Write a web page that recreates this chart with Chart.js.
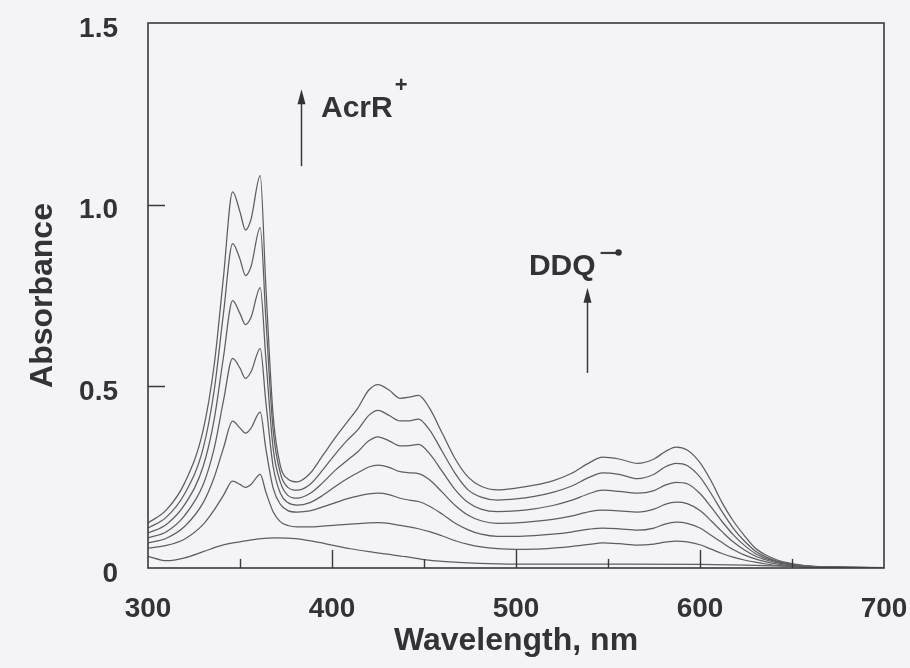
<!DOCTYPE html>
<html>
<head>
<meta charset="utf-8">
<script src="https://cdn.jsdelivr.net/npm/chart.js@4.4.1/dist/chart.umd.min.js"></script>
<style>
  html, body { margin: 0; padding: 0; background: #f4f4f6; }
  #wrap { width: 910px; height: 668px; }
</style>
</head>
<body>
<div id="wrap"><canvas id="c" width="910" height="668"></canvas></div>
<script>
// ---- data ----
const wavelengths = [300, 310, 320, 330, 336, 341, 346, 350, 353, 356, 361, 364, 368, 372, 376, 381, 388, 395, 402, 408,
  414, 420, 425, 431, 437, 442, 447, 453, 460, 467, 474, 481, 490, 500, 510, 520, 530, 540, 547, 556,
  566, 575, 581, 587, 593, 600, 606, 612, 618, 624, 630, 636, 642, 648, 655, 665, 680, 700];

const spectrum1 = [0.124, 0.16, 0.235, 0.38, 0.56, 0.80, 1.035, 0.98, 0.93, 0.96, 1.08, 0.78, 0.42, 0.28, 0.245, 0.237, 0.26, 0.31, 0.36, 0.40,
  0.44, 0.49, 0.505, 0.49, 0.467, 0.47, 0.475, 0.44, 0.37, 0.30, 0.25, 0.225, 0.215, 0.22, 0.228, 0.24, 0.26, 0.29, 0.305, 0.30,
  0.288, 0.30, 0.32, 0.333, 0.325, 0.29, 0.24, 0.18, 0.13, 0.09, 0.055, 0.035, 0.022, 0.014, 0.008, 0.004, 0.002, 0.001];

const spectrum2 = [0.11, 0.14, 0.205, 0.33, 0.49, 0.70, 0.893, 0.85, 0.805, 0.83, 0.937, 0.69, 0.38, 0.26, 0.222, 0.214, 0.23, 0.27, 0.315, 0.35,
  0.38, 0.42, 0.434, 0.42, 0.405, 0.405, 0.41, 0.38, 0.32, 0.26, 0.215, 0.195, 0.187, 0.19, 0.197, 0.208, 0.225, 0.25, 0.262, 0.258,
  0.246, 0.258, 0.278, 0.288, 0.282, 0.25, 0.205, 0.155, 0.11, 0.075, 0.047, 0.03, 0.019, 0.012, 0.007, 0.003, 0.002, 0.001];

const spectrum3 = [0.096, 0.12, 0.175, 0.28, 0.41, 0.58, 0.736, 0.70, 0.67, 0.69, 0.772, 0.58, 0.33, 0.235, 0.20, 0.192, 0.205, 0.235, 0.27, 0.295,
  0.32, 0.35, 0.361, 0.35, 0.336, 0.337, 0.34, 0.315, 0.265, 0.215, 0.18, 0.162, 0.155, 0.157, 0.163, 0.172, 0.186, 0.205, 0.214, 0.211,
  0.206, 0.213, 0.228, 0.236, 0.232, 0.205, 0.168, 0.128, 0.092, 0.063, 0.04, 0.026, 0.017, 0.011, 0.006, 0.003, 0.002, 0.001];

const spectrum4 = [0.083, 0.10, 0.145, 0.23, 0.33, 0.46, 0.577, 0.55, 0.522, 0.54, 0.604, 0.46, 0.28, 0.205, 0.18, 0.173, 0.18, 0.20, 0.225, 0.245,
  0.262, 0.278, 0.283, 0.277, 0.265, 0.262, 0.26, 0.243, 0.208, 0.172, 0.145, 0.13, 0.123, 0.124, 0.128, 0.134, 0.143, 0.155, 0.159, 0.157,
  0.154, 0.162, 0.175, 0.181, 0.177, 0.158, 0.13, 0.10, 0.072, 0.05, 0.033, 0.022, 0.014, 0.009, 0.005, 0.003, 0.001, 0.001];

const spectrum5 = [0.069, 0.082, 0.115, 0.18, 0.25, 0.33, 0.404, 0.385, 0.371, 0.385, 0.429, 0.33, 0.22, 0.175, 0.158, 0.154, 0.157, 0.168, 0.18, 0.19,
  0.198, 0.204, 0.206, 0.202, 0.192, 0.187, 0.183, 0.17, 0.148, 0.123, 0.105, 0.093, 0.087, 0.087, 0.089, 0.093, 0.099, 0.107, 0.11, 0.108,
  0.104, 0.11, 0.121, 0.126, 0.123, 0.11, 0.09, 0.07, 0.051, 0.036, 0.025, 0.017, 0.011, 0.007, 0.004, 0.002, 0.001, 0.001];

const spectrum6 = [0.055, 0.062, 0.08, 0.12, 0.16, 0.20, 0.239, 0.23, 0.222, 0.23, 0.258, 0.21, 0.155, 0.127, 0.117, 0.113, 0.113, 0.115, 0.118, 0.12,
  0.122, 0.124, 0.125, 0.123, 0.117, 0.113, 0.108, 0.10, 0.088, 0.075, 0.065, 0.058, 0.053, 0.051, 0.052, 0.055, 0.059, 0.065, 0.069, 0.067,
  0.063, 0.066, 0.071, 0.074, 0.072, 0.064, 0.052, 0.04, 0.03, 0.022, 0.016, 0.011, 0.007, 0.005, 0.003, 0.002, 0.001, 0.001];

// earliest spectrum (broad band, no structure)
const wavelengthsEarly = [300, 310, 320, 330, 340, 350, 360, 370, 380, 390, 400, 410, 420, 430, 440, 450, 460, 480, 500, 550, 600, 640, 700];
const spectrum0 = [0.032, 0.02, 0.028, 0.045, 0.062, 0.072, 0.08, 0.083, 0.081, 0.073, 0.063, 0.053, 0.045, 0.038, 0.031, 0.023, 0.018, 0.013, 0.011, 0.011, 0.01, 0.006, 0.001];

const xTickLabels = ['300', '400', '500', '600', '700'];
const yTickLabels = ['0', '0.5', '1.0', '1.5'];

// ---- chart ----
const FONT = '"Liberation Sans", Arial, Helvetica, sans-serif';
const INK = '#333337';
const LINE = '#5e5e62';

function toPoints(xs, ys) { return xs.map((w, i) => ({ x: w, y: ys[i] })); }

const allSeries = [spectrum0, spectrum1, spectrum2, spectrum3, spectrum4, spectrum5, spectrum6];
const datasets = allSeries.map((s, i) => ({
  label: 'spectrum ' + i,
  data: i === 0 ? toPoints(wavelengthsEarly, s) : toPoints(wavelengths, s),
  borderColor: LINE,
  borderWidth: 1.25,
  pointRadius: 0,
  fill: false,
  cubicInterpolationMode: 'monotone'
}));

const background = {
  id: 'background',
  beforeDraw(chart) {
    const { ctx, width, height } = chart;
    ctx.save();
    ctx.fillStyle = '#f4f4f6';
    ctx.fillRect(0, 0, width, height);
    ctx.restore();
  }
};

const frame = {
  id: 'frame',
  afterDatasetsDraw(chart) {
    const { ctx, chartArea: a, scales: { x, y } } = chart;
    ctx.save();
    ctx.strokeStyle = '#3a3a3e';
    ctx.lineWidth = 1.6;
    ctx.strokeRect(a.left, a.top, a.right - a.left, a.bottom - a.top);
    ctx.lineWidth = 1.4;
    ctx.beginPath();
    for (let v = x.min + 50; v < x.max; v += 50) {
      const px = Math.round(x.getPixelForValue(v)) + 0.5;
      const len = (v % 100 === 0) ? 18 : 9;
      ctx.moveTo(px, a.bottom);
      ctx.lineTo(px, a.bottom - len);
    }
    for (let v = y.min + 0.5; v < y.max; v += 0.5) {
      const py = Math.round(y.getPixelForValue(v)) + 0.5;
      ctx.moveTo(a.left, py);
      ctx.lineTo(a.left + 17, py);
    }
    ctx.stroke();
    ctx.restore();
  }
};

function upArrow(ctx, px, yFrom, yTip) {
  ctx.beginPath();
  ctx.moveTo(px, yFrom);
  ctx.lineTo(px, yTip + 10);
  ctx.stroke();
  ctx.beginPath();
  ctx.moveTo(px, yTip);
  ctx.lineTo(px - 4, yTip + 15);
  ctx.lineTo(px + 4, yTip + 15);
  ctx.closePath();
  ctx.fill();
}

const notes = {
  id: 'notes',
  afterDraw(chart) {
    const { ctx, scales: { x, y } } = chart;
    ctx.save();
    ctx.fillStyle = INK;
    ctx.strokeStyle = '#3a3a3e';
    ctx.lineWidth = 1.5;

    // AcrR+ arrow and label
    const ax = Math.round(x.getPixelForValue(383)) + 0.5;
    upArrow(ctx, ax, y.getPixelForValue(1.106), y.getPixelForValue(1.318));
    ctx.font = 'bold 30px ' + FONT;
    ctx.textBaseline = 'alphabetic';
    ctx.textAlign = 'left';
    const t1x = x.getPixelForValue(394), t1y = y.getPixelForValue(1.241);
    ctx.fillText('AcrR', t1x, t1y);
    const w1 = ctx.measureText('AcrR').width;
    ctx.font = 'bold 22px ' + FONT;
    ctx.fillText('+', t1x + w1 + 2, t1y - 25);

    // DDQ radical anion arrow and label
    const dx = Math.round(x.getPixelForValue(538.6)) + 0.5;
    upArrow(ctx, dx, y.getPixelForValue(0.537), y.getPixelForValue(0.771));
    ctx.font = 'bold 30px ' + FONT;
    const t2x = x.getPixelForValue(507), t2y = y.getPixelForValue(0.8065);
    ctx.fillText('DDQ', t2x, t2y);
    const w2 = ctx.measureText('DDQ').width;
    const sy = t2y - 22;
    ctx.lineWidth = 2.2;
    ctx.beginPath();
    ctx.moveTo(t2x + w2 + 5, sy);
    ctx.lineTo(t2x + w2 + 22, sy);
    ctx.stroke();
    ctx.beginPath();
    ctx.arc(t2x + w2 + 23, sy - 0.5, 3.2, 0, Math.PI * 2);
    ctx.fill();
    ctx.restore();
  }
};

new Chart(document.getElementById('c'), {
  type: 'line',
  data: { datasets },
  options: {
    responsive: false,
    devicePixelRatio: 1,
    animation: false,
    events: [],
    layout: { padding: { top: 23, right: 26, left: 0, bottom: 0 } },
    plugins: { legend: { display: false }, tooltip: { enabled: false } },
    scales: {
      x: {
        type: 'linear',
        min: 300, max: 700,
        grid: { display: false, drawTicks: false },
        border: { display: false },
        ticks: {
          stepSize: 100,
          padding: 24,
          color: INK,
          font: { family: FONT, size: 28, weight: 'bold' },
          callback: (v) => xTickLabels[Math.round((v - 300) / 100)] ?? ''
        },
        title: {
          display: true,
          text: 'Wavelength, nm',
          color: INK,
          font: { family: FONT, size: 32, weight: 'bold' },
          padding: { top: 0, bottom: 8 }
        },
        afterFit(scale) {
          scale.height = 100;
          scale.paddingLeft = 0; scale.paddingRight = 0;
          scale.paddingTop = 0; scale.paddingBottom = 0;
        }
      },
      y: {
        type: 'linear',
        min: 0, max: 1.5,
        grid: { display: false, drawTicks: false },
        border: { display: false },
        ticks: {
          stepSize: 0.5,
          padding: 30,
          labelOffset: 6,
          color: INK,
          font: { family: FONT, size: 28, weight: 'bold' },
          callback: (v) => yTickLabels[Math.round(v / 0.5)] ?? ''
        },
        title: {
          display: true,
          text: 'Absorbance',
          color: INK,
          font: { family: FONT, size: 32, weight: 'bold' },
          padding: { top: 24, bottom: 0 }
        },
        afterFit(scale) {
          scale.width = 148;
          scale.paddingLeft = 0; scale.paddingRight = 0;
          scale.paddingTop = 0; scale.paddingBottom = 0;
        }
      }
    }
  },
  plugins: [background, frame, notes]
});
</script>
</body>
</html>
